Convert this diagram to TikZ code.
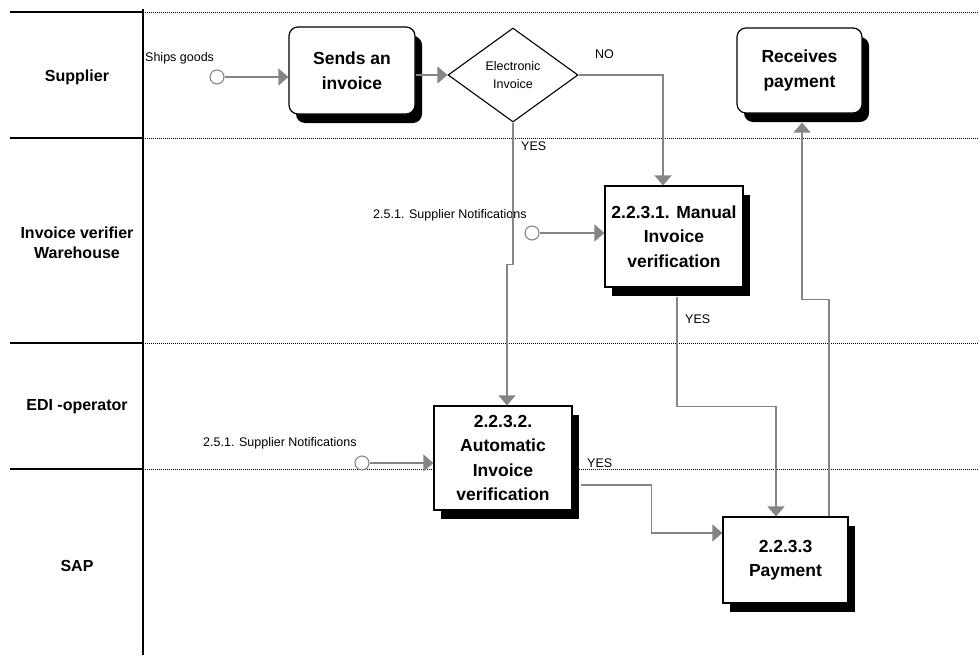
\documentclass[tikz,border=0pt]{standalone}
\usepackage{fontspec}
\setmainfont{Liberation Sans}
\usetikzlibrary{arrows.meta,shapes.geometric,shadows}
\definecolor{linegray}{HTML}{858585}
\begin{document}
\begin{tikzpicture}[x=1pt,y=-1pt,
  conn/.style={draw=linegray,line width=1.3pt,-{Triangle[length=10pt,width=17pt,fill=linegray]}},
  plainconn/.style={draw=linegray,line width=1.3pt},
  laneline/.style={line width=1.4pt},
  sepline/.style={line width=0.7pt,dash pattern=on 1pt off 1pt},
  lbl/.style={font=\fontsize{12.5}{18}\selectfont,inner sep=0pt,anchor=base west},
  lane/.style={font=\bfseries\fontsize{16}{20}\selectfont,align=center,inner sep=0pt},
  shadowed/.style={drop shadow={shadow xshift=7pt,shadow yshift=-9pt,fill=black,opacity=1}},
  stepbox/.style={draw,line width=1.2pt,fill=white,shadowed,align=center,inner sep=0pt,
    font=\bfseries\fontsize{17.5}{24.5}\selectfont},
  roundbox/.style={stepbox,rounded corners=9pt},
  startdot/.style={circle,draw=linegray,line width=1.1pt,fill=white,minimum size=14pt,inner sep=0pt},
  decision/.style={diamond,draw,line width=1.1pt,fill=white,inner sep=0pt,align=center,
    minimum width=130pt,minimum height=94pt,font=\fontsize{12.5}{18}\selectfont}
]
\useasboundingbox (0,0) rectangle (979,656);

% swimlanes
\draw[line width=1.4pt] (143,9) -- (143,655);
\foreach \yy in {12,138,343,469}{
  \draw[laneline] (10,\yy) -- (143,\yy);
  \draw[sepline] (143,\yy) -- (979,\yy);
}
\node[lane] (l1) at (77,77) {Supplier};
\node[lane] (l2) at (77,243) {Invoice verifier\\Warehouse};
\node[lane] (l3) at (77,407) {EDI -operator};
\node[lane] (l4) at (77,566) {SAP};

% nodes
\node[roundbox,minimum width=126pt,minimum height=87pt] (sends) at (352,70.5) {Sends an\\invoice};
\node[roundbox,minimum width=125pt,minimum height=85pt] (recv) at (799.5,70.5) {Receives\\payment};
\node[decision] (dia) at (513,75) {Electronic\\Invoice};
\node[stepbox,minimum width=138pt,minimum height=101pt] (manual) at (674,236.5) {2.2.3.1. Manual\\Invoice\\verification};
\node[stepbox,minimum width=138pt,minimum height=104pt] (auto) at (503,458) {2.2.3.2.\\Automatic\\Invoice\\verification};
\node[stepbox,minimum width=125pt,minimum height=86pt] (pay) at (785.5,560) {2.2.3.3\\Payment};

\node[startdot] (c1) at (217,77) {};
\node[startdot] (c2) at (532,233) {};
\node[startdot] (c3) at (362,463) {};

% labels
\node[lbl] (t1) at (145,61) {Ships goods};
\node[lbl] (t2) at (373,218) {2.5.1. Supplier Notifications};
\node[lbl] (t3) at (203,446) {2.5.1. Supplier Notifications};
\node[lbl] (no) at (595,58) {NO};
\node[lbl] (y1) at (521,150) {YES};
\node[lbl] (y2) at (685,323) {YES};
\node[lbl] (y3) at (587,467) {YES};

% connectors
\draw[conn] (c1) -- (c1 -| sends.west);
\draw[conn] (dia.west -| sends.east) -- (dia.west);
\draw[conn] (dia.east) -| ([xshift=-11pt]manual.north);
\draw[conn] (dia.south) -- ++(0,142) -| ([xshift=4pt]auto.north);
\draw[conn] (c2) -- (c2 -| manual.west);
\draw[conn] (c3) -- (c3 -| auto.west);
\draw[conn] ([xshift=3pt,yshift=-9pt]manual.south) -- ++(0,110) -| ([xshift=-9.5pt]pay.north);
\draw[conn] ([xshift=8pt,yshift=-27pt]auto.east) -- ++(71,0) |- ([yshift=27pt]pay.west);
\draw[conn] ([xshift=43.5pt]pay.north) -- ++(0,-217) -| ([xshift=2.5pt,yshift=-9pt]recv.south);
\end{tikzpicture}
\end{document}
